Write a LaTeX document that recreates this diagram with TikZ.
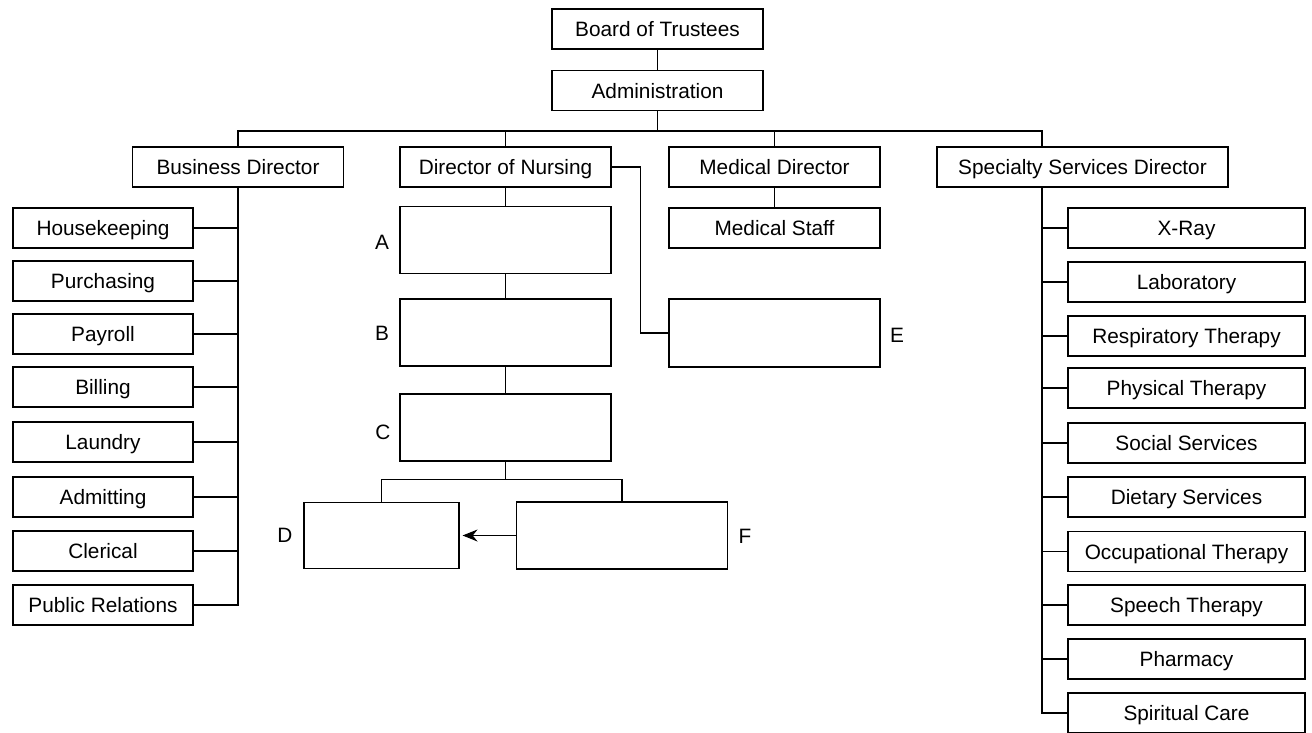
\documentclass[tikz,border=0pt]{standalone}
\usepackage{fontspec}
\setmainfont{Liberation Sans}
\usetikzlibrary{arrows.meta}

\begin{document}
\begin{tikzpicture}[x=0.5pt, y=-0.5pt, line width=0.55pt, font=\fontsize{10.4}{12}\selectfont]
        \tikzstyle{unit}=[draw,inner sep=0pt,text height=7.5pt,text depth=0pt,minimum width=105.5pt,minimum height=20pt]
        \tikzstyle{dept}=[unit,minimum width=90pt]
        \tikzstyle{service}=[unit,minimum width=118.5pt]
        \tikzstyle{blank}=[draw,inner sep=0pt,minimum width=105.5pt,minimum height=33.5pt]

        \useasboundingbox (0,0) rectangle (1312,733);

        % top of the chart
        \node[unit] (T_1) at (657.5,29)  {Board of Trustees};
        \node[unit] (T_2) at (657.5,90.5)  {Administration};
        \node[unit] (D_1) at (238,167)  {Business Director};
        \node[unit] (D_2) at (505.5,167)  {Director of Nursing};
        \node[unit] (D_3) at (774.5,167)  {Medical Director};
        \node[unit,minimum width=145.5pt] (D_4) at (1082.5,167)  {Specialty Services Director};
        \coordinate (hub) at (1042,131);

        \draw (T_1) -- (T_2);
        \draw (T_2.south) -- (T_2.south |- hub);
        \draw (D_1.north) |- (hub) -- (hub |- D_4.north);
        \draw (D_2.north) -- (D_2.north |- hub);
        \draw (D_3.north) -- (D_3.north |- hub);

        % business side
        \node[dept] (B_1) at (103,228)  {Housekeeping};
        \node[dept] (B_2) at (103,281)  {Purchasing};
        \node[dept] (B_3) at (103,334)  {Payroll};
        \node[dept] (B_4) at (103,387)  {Billing};
        \node[dept] (B_5) at (103,442)  {Laundry};
        \node[dept] (B_6) at (103,497)  {Admitting};
        \node[dept] (B_7) at (103,551)  {Clerical};
        \node[dept] (B_8) at (103,605)  {Public Relations};

        \draw (D_1.south) |- (B_8.east);
        \draw (B_1.east) -- (B_1.east -| D_1.south);
        \draw (B_2.east) -- (B_2.east -| D_1.south);
        \draw (B_3.east) -- (B_3.east -| D_1.south);
        \draw (B_4.east) -- (B_4.east -| D_1.south);
        \draw (B_5.east) -- (B_5.east -| D_1.south);
        \draw (B_6.east) -- (B_6.east -| D_1.south);
        \draw (B_7.east) -- (B_7.east -| D_1.south);

        % nursing and medical
        \node[blank] (N_A) at (505.5,240)  {};
        \node[blank] (N_B) at (505.5,332.5)  {};
        \node[blank] (N_C) at (505.5,427.5)  {};
        \node[blank,minimum width=77.5pt,minimum height=33pt] (N_D) at (381.5,535.5)  {};
        \node[blank] (N_F) at (622,535.5)  {};
        \node[blank,minimum height=34pt] (N_E) at (774.5,333)  {};
        \node[unit] (M_1) at (774.5,228)  {Medical Staff};

        \node (L_A) at (382,242)  {A};
        \node (L_B) at (382,333)  {B};
        \node (L_C) at (383,432)  {C};
        \node (L_D) at (285,535)  {D};
        \node (L_F) at (745,536)  {F};
        \node (L_E) at (897,335)  {E};

        \draw (D_2) -- (N_A) -- (N_B) -- (N_C);
        \draw (N_C.south) -- ++(0,18) coordinate (fork);
        \draw (N_D.north) |- (fork) -| (N_F.north);
        \draw[-{Stealth[length=7.5pt,width=6pt]}] (N_F.west) -- ([xshift=1.5pt]N_D.east);
        \draw (D_2.east) -- ++(29,0) |- (N_E.west);
        \draw (D_3) -- (M_1);

        % specialty side
        \node[service] (S_1) at (1186.5,228)  {X-Ray};
        \node[service] (S_2) at (1186.5,282)  {Laboratory};
        \node[service] (S_3) at (1186.5,336)  {Respiratory Therapy};
        \node[service] (S_4) at (1186.5,388)  {Physical Therapy};
        \node[service] (S_5) at (1186.5,443)  {Social Services};
        \node[service] (S_6) at (1186.5,497)  {Dietary Services};
        \node[service] (S_7) at (1186.5,551.5)  {Occupational Therapy};
        \node[service] (S_8) at (1186.5,605)  {Speech Therapy};
        \node[service] (S_9) at (1186.5,659)  {Pharmacy};
        \node[service] (S_10) at (1186.5,713)  {Spiritual Care};

        \draw (hub |- D_4.south) |- (S_10.west);
        \draw (S_1.west) -- (S_1.west -| hub);
        \draw (S_2.west) -- (S_2.west -| hub);
        \draw (S_3.west) -- (S_3.west -| hub);
        \draw (S_4.west) -- (S_4.west -| hub);
        \draw (S_5.west) -- (S_5.west -| hub);
        \draw (S_6.west) -- (S_6.west -| hub);
        \draw (S_7.west) -- (S_7.west -| hub);
        \draw (S_8.west) -- (S_8.west -| hub);
        \draw (S_9.west) -- (S_9.west -| hub);
    \end{tikzpicture}
\end{document}
